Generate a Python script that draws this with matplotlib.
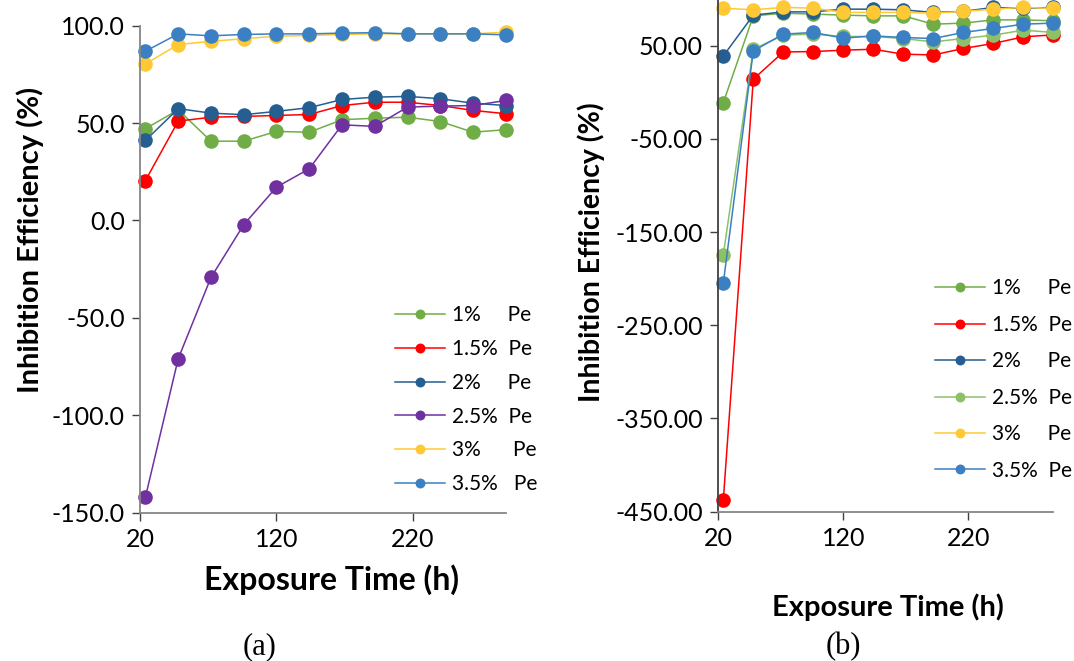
import matplotlib
matplotlib.use('Agg')
import matplotlib.pyplot as plt

plt.rcParams['font.family'] = ['Lato', 'DejaVu Sans']

# exposure time (h)
hours = [24, 48, 72, 96, 120, 144, 168, 192, 216, 240, 264, 288]

# (a) inhibition efficiency (%)
a_1 = [47.1, 56.8, 40.7, 40.7, 45.7, 45.3, 51.7, 52.5, 53.0, 50.8, 45.3, 46.6]
a_15 = [20.5, 51.0, 53.0, 53.4, 53.9, 54.4, 59.0, 60.7, 60.7, 59.0, 56.5, 54.8]
a_2 = [41.1, 57.4, 55.1, 54.3, 56.0, 57.9, 62.1, 63.3, 63.7, 62.5, 60.2, 59.0]
a_25 = [-142.0, -71.0, -29.3, -2.2, 17.1, 26.5, 49.1, 48.3, 58.2, 58.7, 59.0, 61.6]
a_3 = [80.4, 90.3, 92.0, 93.3, 94.6, 95.0, 95.5, 95.8, 95.8, 95.8, 95.8, 96.7]
a_35 = [86.9, 95.8, 94.8, 95.5, 95.8, 95.8, 96.2, 96.4, 95.8, 95.8, 95.8, 95.3]

# (b) inhibition efficiency (%)
b_1 = [-11.2, 81.9, 84.8, 83.8, 82.7, 81.9, 81.9, 73.0, 74.1, 77.6, 77.6, 76.6]
b_15 = [-437.7, 13.9, 43.2, 43.6, 45.1, 46.1, 40.8, 40.0, 46.9, 52.3, 59.4, 61.5]
b_2 = [38.9, 82.7, 86.2, 86.2, 89.1, 89.1, 88.4, 85.6, 86.7, 91.0, 89.9, 91.0]
b_25 = [-174.3, 46.1, 61.2, 62.3, 59.8, 59.8, 57.6, 54.0, 57.6, 61.2, 66.6, 64.1]
b_3 = [90.2, 88.4, 91.0, 90.2, 85.6, 85.6, 85.6, 84.8, 86.7, 89.1, 91.0, 89.9]
b_35 = [-204.7, 44.3, 62.3, 64.1, 58.0, 60.4, 58.7, 57.6, 64.1, 68.4, 73.0, 74.1]

labels_a = ['1%     Pe', '1.5%  Pe', '2%     Pe', '2.5%  Pe', '3%      Pe', '3.5%   Pe']
labels_b = ['1%     Pe', '1.5%  Pe', '2%     Pe', '2.5%  Pe', '3%     Pe', '3.5%  Pe']
colors_a = ['#70AD47', '#FF0000', '#255E91', '#7030A0', '#FFC936', '#3A80C2']
colors_b = ['#70AD47', '#FF0000', '#255E91', '#8CC168', '#FFC936', '#3A80C2']

yticks_a = [100, 50, 0, -50, -100, -150]
yticks_b = [50, -50, -150, -250, -350, -450]
xticks = [20, 120, 220]

W, H = 1074, 661
fig = plt.figure(figsize=(W / 100, H / 100), dpi=100)


def make_axes(x0, x1, ytop, ybot):
    return fig.add_axes([x0 / W, 1 - ybot / H, (x1 - x0) / W, (ybot - ytop) / H])


def style(ax, yticks, ylim, fmt, spine_col):
    ax.set_xlim(20, 288)
    ax.set_ylim(*ylim)
    ax.set_xticks(xticks)
    ax.set_yticks(yticks)
    ax.set_yticklabels([fmt.format(v) for v in yticks])
    for s in ['top', 'right']:
        ax.spines[s].set_visible(False)
    ax.spines['left'].set_color(spine_col)
    ax.spines['bottom'].set_color('#868686')
    ax.spines['left'].set_linewidth(1.3)
    ax.spines['bottom'].set_linewidth(1.3)
    ax.tick_params(direction='out', length=6, width=1.0, colors='#404040',
                   labelsize=18, labelcolor='black', pad=5)


def draw(ax, series, colors, labels):
    for ys, c, lab in zip(series, colors, labels):
        ax.plot(hours, ys, color=c, lw=1.1, marker='o', ms=10.5,
                markeredgewidth=0, label=lab, clip_on=False)


axA = make_axes(140, 505.8, 25.7, 512.5)
draw(axA, [a_1, a_15, a_2, a_25, a_3, a_35], colors_a, labels_a)
style(axA, yticks_a, (-150, 100), '{:.1f}', '#868686')

axB = make_axes(718.3, 1053.3, -1.0, 511.7)
draw(axB, [b_1, b_15, b_2, b_25, b_3, b_35], colors_b, labels_b)
style(axB, yticks_b, (-450, 100), '{:.2f}', '#404040')

for ax, anchor, spacing in [(axA, (385 / W, 1 - 295 / H), 0.66),
                            (axB, (925 / W, 1 - 268 / H), 0.79)]:
    h, l = ax.get_legend_handles_labels()
    ax.legend(h, l, loc='upper left', bbox_to_anchor=anchor,
              bbox_transform=fig.transFigure, frameon=False,
              fontsize=15, handlelength=2.4, handletextpad=0.33,
              labelspacing=spacing, borderpad=0, markerscale=0.68)

fig.text(30 / W, 1 - 240 / H, 'Inhibition Efficiency (%)', rotation=90,
         ha='center', va='center', fontsize=21, fontweight='bold')
fig.text(591 / W, 1 - 252 / H, 'Inhibition Efficiency (%)', rotation=90,
         ha='center', va='center', fontsize=20.5, fontweight='bold')
fig.text(331 / W, 1 - 580 / H, 'Exposure Time (h)',
         ha='center', va='center', fontsize=23, fontweight='bold')
fig.text(888 / W, 1 - 607 / H, 'Exposure Time (h)',
         ha='center', va='center', fontsize=21, fontweight='bold')
fig.text(260 / W, 1 - 647 / H, '(a)', ha='center', va='center',
         fontsize=22, family='Liberation Serif')
fig.text(843 / W, 1 - 647 / H, '(b)', ha='center', va='center',
         fontsize=22, family='Liberation Serif')

fig.savefig('out.png', dpi=100)
